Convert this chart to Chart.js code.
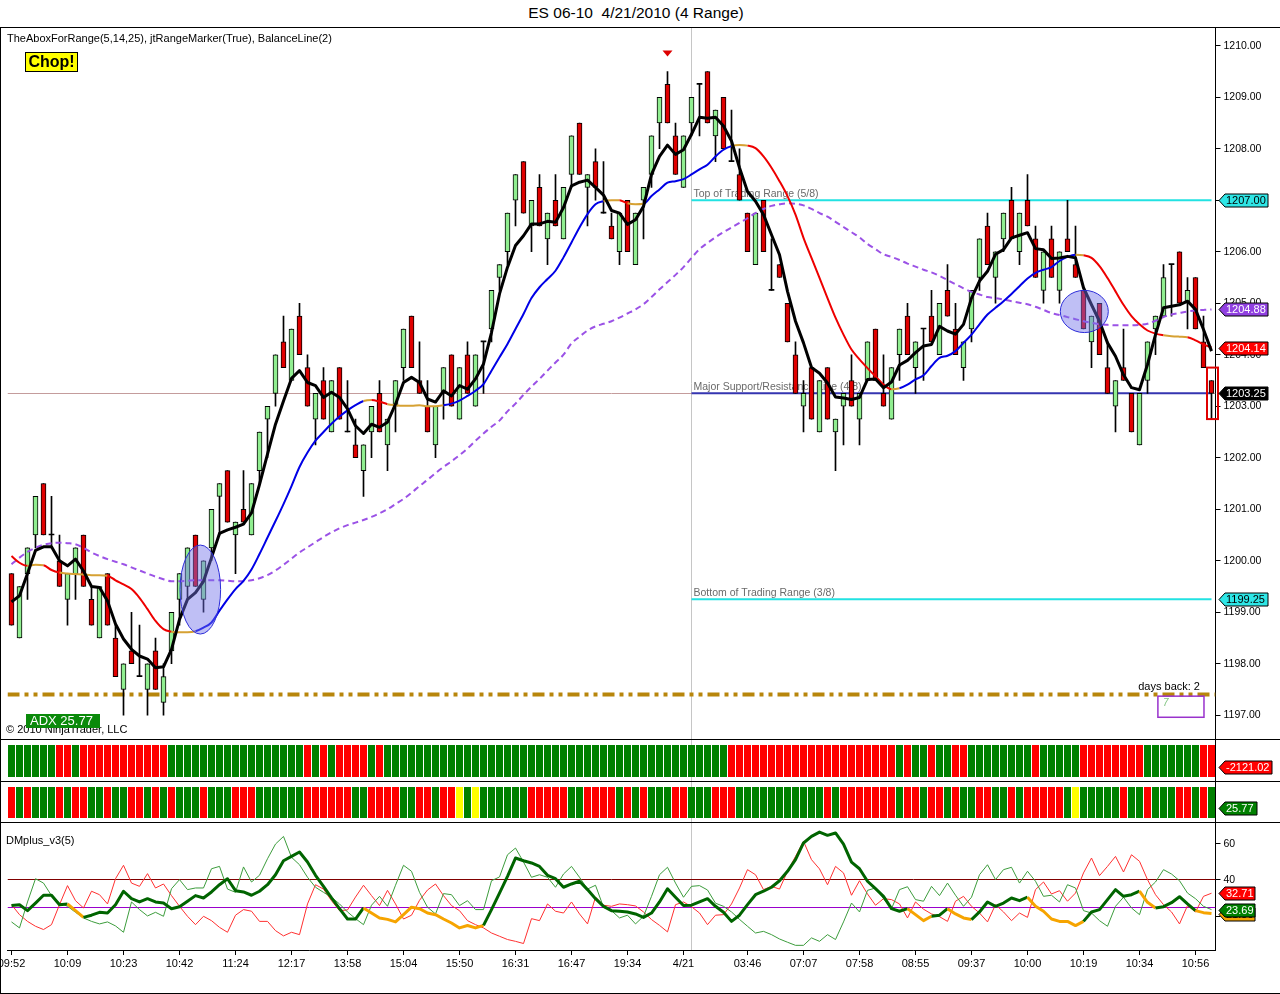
<!DOCTYPE html>
<html>
<head>
<meta charset="utf-8">
<title>ES 06-10 4/21/2010 (4 Range)</title>
<script src="https://cdn.jsdelivr.net/npm/chart.js@4.4.1/dist/chart.umd.min.js"></script>
<style>
html,body{margin:0;padding:0;background:#fff;}
body{width:1280px;height:994px;position:relative;overflow:hidden;font-family:'Liberation Sans',Arial,sans-serif;}
#title{position:absolute;left:0;top:4px;width:1272px;text-align:center;font-size:15.5px;line-height:18px;color:#000;}
.pane{position:absolute;left:0;width:1280px;}
.pane canvas{display:block;}
.h{position:absolute;left:0;width:1280px;height:1px;background:#000;}
.v{position:absolute;width:1px;background:#000;}
</style>
</head>
<body>
<div id="title">ES 06-10&nbsp; 4/21/2010 (4 Range)</div>
<div class="pane" style="top:28px;height:711px"><canvas id="cMain" width="1280" height="711"></canvas></div>
<div class="pane" style="top:740px;height:41px"><canvas id="cFlow" width="1280" height="41"></canvas></div>
<div class="pane" style="top:782px;height:40px"><canvas id="cStr" width="1280" height="40"></canvas></div>
<div class="pane" style="top:823px;height:170px"><canvas id="cDM" width="1280" height="170"></canvas></div>
<div class="h" style="top:27px"></div>
<div class="h" style="top:739px"></div>
<div class="h" style="top:781px"></div>
<div class="h" style="top:822px"></div>
<div class="h" style="top:993px"></div>
<div class="v" style="left:0;top:27px;height:967px"></div>
<div class="v" style="left:1215px;top:739px;height:84px"></div>
<script>
const FONT = "'Liberation Sans', Arial, Helvetica, sans-serif";

// ---------- price bars (4-tick range bars) ----------
const opens = [
1199.75,1198.5,1199.75,1200.5,1201.5,1200.5,1200.0,1199.25,1199.75,1200.5,
1199.25,1198.5,1199.75,1198.5,1197.5,1198.25,1197.75,1197.5,1198.25,1197.25,
1198.25,1199.25,1199.5,1200.5,1199.25,1200.25,1201.25,1201.75,1200.5,1201.0,
1200.5,1201.75,1202.75,1203.25,1204.25,1203.5,1204.75,1203.75,1202.75,1203.5,
1202.5,1203.75,1202.5,1202.25,1201.75,1202.5,1203.25,1202.25,1203.0,1203.75,
1204.75,1203.5,1203.0,1202.25,1203.25,1204.0,1202.75,1204.0,1203.0,1204.25,
1204.5,1205.5,1206.0,1207.0,1207.75,1206.5,1207.25,1206.25,1207.0,1206.25,
1207.5,1208.5,1207.25,1207.75,1206.75,1206.5,1206.0,1207.0,1205.75,1207.0,
1207.5,1208.5,1209.25,1208.25,1207.25,1208.5,1209.25,1209.5,1208.25,1209.0,
1207.75,1207.5,1206.75,1205.75,1207.0,1205.25,1205.75,1205.0,1204.0,1203.0,
1203.75,1202.5,1203.75,1202.5,1203.0,1203.5,1202.75,1203.5,1204.5,1203.25,
1202.75,1204.0,1204.75,1203.75,1204.5,1204.75,1204.0,1205.25,1204.5,1203.75,
1204.5,1205.5,1206.5,1205.5,1206.25,1207.0,1206.0,1207.0,1206.25,1205.25,
1206.25,1205.25,1206.25,1205.75,1205.25,1204.25,1205.0,1203.75,1203.0,1203.75,
1203.25,1202.25,1203.5,1204.5,1204.75,1205.75,1206.0,1205.0,1205.5,1204.25,
1203.5];
const highs = [
1199.75,1199.5,1200.25,1201.25,1201.5,1201.25,1200.5,1199.75,1200.25,1200.5,
1199.5,1199.5,1199.75,1198.75,1198.0,1199.0,1198.75,1198.0,1198.5,1198.0,
1199.0,1199.75,1200.25,1200.5,1200.0,1201.0,1201.5,1201.75,1200.75,1201.75,
1201.5,1202.5,1203.0,1204.0,1204.75,1204.5,1205.0,1204.0,1203.25,1203.75,
1203.5,1203.75,1203.5,1202.75,1202.25,1203.0,1203.5,1202.75,1203.5,1204.5,
1204.75,1204.25,1203.5,1203.0,1203.75,1204.0,1203.75,1204.25,1204.0,1204.25,
1205.25,1205.75,1206.75,1207.5,1207.75,1207.0,1207.5,1206.75,1207.5,1207.25,
1208.25,1208.5,1207.5,1208.0,1207.75,1206.75,1206.75,1207.0,1206.75,1207.25,
1208.25,1209.0,1209.5,1208.5,1208.25,1209.0,1209.25,1209.5,1208.75,1209.0,
1208.75,1208.0,1206.75,1206.75,1207.0,1206.25,1205.75,1205.0,1204.25,1203.5,
1203.75,1203.5,1203.75,1202.75,1203.25,1204.0,1203.25,1204.25,1204.5,1204.0,
1203.75,1204.5,1205.0,1204.25,1204.5,1205.25,1205.0,1205.75,1205.0,1204.25,
1205.25,1206.25,1206.75,1206.0,1206.75,1207.25,1206.75,1207.5,1206.5,1206.0,
1206.5,1206.0,1207.0,1206.5,1205.25,1204.75,1205.0,1204.25,1203.5,1204.5,
1203.25,1203.25,1204.25,1204.75,1205.75,1205.75,1206.0,1205.5,1205.5,1204.75,
1203.5];
const lows = [
1198.75,1198.5,1199.25,1200.25,1200.5,1200.25,1199.5,1198.75,1199.25,1199.5,
1198.75,1198.5,1198.75,1197.75,1197.0,1198.0,1197.75,1197.0,1197.5,1197.0,
1198.0,1198.75,1199.25,1199.5,1199.0,1200.0,1200.5,1200.75,1199.75,1200.75,
1200.5,1201.5,1202.0,1203.0,1203.75,1203.5,1204.0,1203.0,1202.25,1202.75,
1202.5,1202.75,1202.5,1202.0,1201.25,1202.0,1202.5,1201.75,1202.5,1203.5,
1203.75,1203.25,1202.5,1202.0,1202.75,1203.0,1202.75,1203.25,1203.0,1203.25,
1204.25,1205.25,1205.75,1206.5,1206.75,1206.0,1206.5,1205.75,1206.5,1206.25,
1207.25,1207.5,1206.5,1207.0,1206.75,1206.25,1205.75,1206.0,1205.75,1206.25,
1207.25,1208.0,1208.5,1207.5,1207.25,1208.25,1208.25,1208.5,1207.75,1208.0,
1207.75,1207.0,1206.0,1205.75,1206.0,1205.25,1205.5,1204.25,1203.25,1202.5,
1202.75,1202.5,1202.75,1201.75,1202.25,1203.0,1202.25,1203.5,1203.5,1203.0,
1202.75,1203.5,1204.0,1203.25,1203.5,1204.25,1204.0,1204.75,1204.0,1203.5,
1204.25,1205.25,1205.75,1205.0,1206.0,1206.25,1205.75,1206.5,1205.5,1205.0,
1205.5,1205.0,1206.0,1205.5,1204.5,1203.75,1204.0,1203.25,1202.5,1203.5,
1202.5,1202.25,1203.25,1204.0,1204.75,1204.75,1205.0,1204.5,1204.5,1203.75,
1202.75];
const closes = [
1198.75,1199.5,1200.25,1201.25,1200.5,1200.5,1199.5,1199.75,1200.25,1199.5,
1198.75,1199.5,1198.75,1197.75,1198.0,1198.0,1197.75,1198.0,1197.5,1197.75,
1199.0,1199.75,1200.25,1199.5,1200.0,1201.0,1201.5,1200.75,1200.75,1200.75,
1201.5,1202.5,1203.0,1204.0,1203.75,1204.5,1204.0,1203.0,1203.25,1202.75,
1203.5,1202.75,1202.5,1202.0,1202.25,1203.0,1202.5,1202.75,1203.5,1204.5,
1203.75,1203.25,1202.5,1203.0,1203.75,1203.0,1203.75,1203.25,1204.0,1204.25,
1205.25,1205.75,1206.75,1207.5,1206.75,1207.0,1206.5,1206.75,1206.5,1207.25,
1208.25,1207.5,1207.5,1207.25,1206.75,1206.25,1206.75,1206.0,1206.75,1207.25,
1208.25,1209.0,1208.5,1207.5,1208.25,1209.0,1209.25,1208.5,1208.75,1208.0,
1207.75,1207.0,1206.0,1206.75,1206.0,1205.25,1205.5,1204.25,1203.25,1203.25,
1202.75,1203.5,1202.75,1202.75,1203.25,1203.0,1203.25,1204.25,1203.5,1203.0,
1203.75,1204.5,1204.0,1204.25,1204.5,1204.25,1205.0,1204.75,1204.0,1204.25,
1205.25,1206.25,1205.75,1206.0,1206.75,1206.25,1206.75,1206.5,1205.5,1206.0,
1205.5,1206.0,1206.0,1205.5,1204.5,1204.75,1204.0,1203.25,1203.5,1203.5,
1202.5,1203.25,1204.25,1204.75,1205.5,1205.75,1205.0,1205.25,1204.5,1203.75,
1203.25];

// ---------- moving averages ----------
const fastAvg = [
1199.2,1199.32,1199.75,1200.2,1200.27,1200.27,1200.0,1199.9,1200.03,1199.8,
1199.5,1199.48,1199.22,1198.77,1198.48,1198.28,1198.15,1198.09,1197.92,1197.94,
1198.28,1198.86,1199.25,1199.38,1199.6,1200.06,1200.53,1200.6,1200.65,1200.71,
1200.93,1201.48,1202.07,1202.65,1203.1,1203.54,1203.69,1203.46,1203.4,1203.17,
1203.27,1203.17,1202.95,1202.62,1202.47,1202.65,1202.59,1202.69,1203.04,1203.46,
1203.56,1203.46,1203.14,1203.08,1203.3,1203.2,1203.4,1203.33,1203.53,1203.82,
1204.43,1205.18,1205.7,1206.12,1206.31,1206.54,1206.54,1206.59,1206.57,1206.86,
1207.28,1207.35,1207.39,1207.25,1207.1,1206.8,1206.75,1206.53,1206.62,1206.88,
1207.5,1207.85,1208.07,1207.89,1207.98,1208.28,1208.61,1208.59,1208.61,1208.44,
1208.15,1207.63,1207.17,1206.98,1206.72,1206.33,1205.94,1205.23,1204.65,1204.23,
1203.75,1203.64,1203.45,1203.18,1203.16,1203.13,1203.17,1203.52,1203.53,1203.36,
1203.47,1203.8,1203.89,1204.04,1204.17,1204.2,1204.55,1204.46,1204.4,1204.59,
1205.1,1205.43,1205.62,1205.95,1206.04,1206.27,1206.32,1206.37,1206.06,1206.04,
1205.87,1205.88,1205.91,1205.88,1205.3,1204.97,1204.65,1204.23,1203.97,1203.61,
1203.36,1203.32,1203.81,1204.39,1204.91,1204.94,1204.97,1205.04,1204.88,1204.49,
1204.07];
const trendAvg = [
1200.09,1199.96,1199.9,1199.92,1199.91,1199.82,1199.77,1199.75,1199.74,1199.73,
1199.72,1199.72,1199.71,1199.62,1199.54,1199.45,1199.28,1199.06,1198.83,1198.67,
1198.62,1198.61,1198.61,1198.63,1198.7,1198.8,1199.03,1199.25,1199.45,1199.61,
1199.83,1200.13,1200.45,1200.77,1201.1,1201.45,1201.82,1202.1,1202.33,1202.5,
1202.66,1202.8,1202.92,1203.02,1203.1,1203.12,1203.09,1203.04,1203.02,1203.01,
1203.01,1203.02,1203.0,1203.0,1203.02,1203.05,1203.11,1203.2,1203.3,1203.43,
1203.69,1203.95,1204.21,1204.5,1204.79,1205.1,1205.31,1205.47,1205.63,1205.89,
1206.18,1206.47,1206.73,1206.92,1206.98,1207.0,1207.0,1206.94,1206.92,1206.93,
1207.08,1207.21,1207.34,1207.37,1207.41,1207.5,1207.6,1207.69,1207.85,1207.98,
1208.05,1208.07,1208.06,1208.01,1207.85,1207.63,1207.37,1207.08,1206.72,1206.27,
1205.88,1205.49,1205.1,1204.72,1204.39,1204.1,1203.91,1203.74,1203.58,1203.42,
1203.33,1203.35,1203.42,1203.52,1203.6,1203.78,1203.94,1203.98,1204.07,1204.23,
1204.39,1204.59,1204.78,1204.91,1205.04,1205.18,1205.33,1205.48,1205.59,1205.65,
1205.7,1205.82,1205.9,1205.94,1205.93,1205.88,1205.72,1205.49,1205.23,1204.97,
1204.75,1204.59,1204.47,1204.41,1204.38,1204.36,1204.35,1204.34,1204.28,1204.2,
1204.14];
const slowAvg = [
1199.93,1200.06,1200.17,1200.25,1200.31,1200.34,1200.35,1200.34,1200.32,1200.25,
1200.16,1200.09,1200.03,1199.98,1199.93,1199.87,1199.81,1199.75,1199.69,1199.64,
1199.6,1199.6,1199.61,1199.62,1199.62,1199.62,1199.62,1199.61,1199.6,1199.6,
1199.62,1199.66,1199.72,1199.81,1199.92,1200.04,1200.16,1200.26,1200.36,1200.46,
1200.55,1200.63,1200.69,1200.74,1200.79,1200.85,1200.92,1201.0,1201.1,1201.2,
1201.32,1201.45,1201.57,1201.7,1201.82,1201.93,1202.05,1202.18,1202.33,1202.47,
1202.6,1202.72,1202.9,1203.05,1203.22,1203.38,1203.53,1203.69,1203.85,1204.0,
1204.22,1204.35,1204.47,1204.55,1204.6,1204.65,1204.72,1204.8,1204.88,1204.98,
1205.12,1205.27,1205.41,1205.55,1205.7,1205.88,1206.05,1206.17,1206.28,1206.38,
1206.47,1206.56,1206.65,1206.75,1206.83,1206.89,1206.92,1206.94,1206.93,1206.9,
1206.83,1206.75,1206.68,1206.58,1206.48,1206.38,1206.28,1206.15,1206.05,1205.95,
1205.9,1205.84,1205.77,1205.71,1205.65,1205.6,1205.53,1205.45,1205.37,1205.29,
1205.22,1205.17,1205.12,1205.1,1205.07,1205.04,1205.01,1204.98,1204.93,1204.87,
1204.81,1204.77,1204.73,1204.69,1204.65,1204.62,1204.59,1204.58,1204.57,1204.57,
1204.57,1204.58,1204.6,1204.66,1204.73,1204.78,1204.81,1204.84,1204.86,1204.87,
1204.88];

// ---------- colour-bar panels (1 = up/green, -1 = down/red, 0 = neutral/yellow) ----------
const flowSign = [
1,1,1,1,1,1,-1,-1,1,-1,
-1,-1,-1,-1,-1,-1,-1,-1,-1,-1,
1,1,1,1,1,1,1,1,1,1,
1,1,1,1,1,1,1,-1,1,-1,
1,-1,-1,-1,-1,1,-1,1,1,1,
1,1,1,1,1,1,1,1,1,1,
1,1,1,1,1,1,1,1,1,1,
1,1,1,1,1,1,1,1,1,1,
1,1,1,1,1,1,1,1,1,1,
-1,-1,-1,-1,-1,-1,-1,-1,-1,-1,
-1,-1,-1,-1,-1,-1,-1,-1,-1,-1,
-1,1,-1,1,1,-1,1,1,-1,-1,
1,1,1,1,1,1,1,1,-1,1,
1,1,1,1,-1,-1,-1,-1,-1,-1,
-1,-1,1,1,1,1,1,1,1,-1,
-1];
const strengthSign = [
-1,1,-1,1,1,1,-1,1,-1,-1,
1,1,-1,1,1,-1,-1,1,-1,1,
-1,1,1,1,-1,1,1,1,-1,-1,
-1,1,1,1,1,1,1,-1,-1,-1,
-1,-1,-1,1,1,-1,-1,-1,-1,1,
1,-1,-1,1,-1,-1,0,1,0,1,
1,1,1,1,1,-1,-1,-1,-1,-1,
1,1,-1,-1,-1,-1,1,-1,1,-1,
1,1,1,-1,-1,1,1,1,-1,-1,
-1,1,1,1,1,1,1,1,1,1,
1,1,-1,1,-1,-1,-1,-1,-1,-1,
-1,1,-1,-1,1,-1,-1,1,-1,1,
1,-1,-1,1,1,-1,1,-1,-1,-1,
-1,-1,1,0,1,1,1,1,1,-1,
1,1,-1,1,1,1,-1,-1,1,-1,
1];
const flowValue = -2121.02;
const adxValue = 25.77;

// ---------- DMplus_v3(5) panel ----------
const adx = [
25.9,26.4,23.1,27.3,31.6,31.6,26.4,26.8,23.1,19.4,
20.6,22.2,21.8,26.4,33.8,29.7,27.9,29.7,27.9,27.3,
24.2,25.3,28.3,31.4,30.1,33.4,37.4,40.7,34.1,33.4,
31.6,33.8,37.4,42.9,50.6,53.0,55.4,49.9,42.6,36.5,
30.1,24.2,18.5,18.5,24.6,21.8,19.1,18.3,16.9,20.9,
25.0,24.2,21.8,20.9,18.5,16.3,13.6,14.9,13.6,15.0,
23.7,32.8,42.0,52.1,50.6,49.4,47.5,42.6,40.7,36.0,
37.8,39.3,34.7,29.7,25.5,23.1,22.8,22.4,21.3,19.4,
21.8,27.9,35.2,30.5,25.9,26.1,27.9,29.7,25.5,22.2,
17.2,20.6,26.4,31.9,33.8,36.0,39.6,44.8,51.2,60.4,
64.0,66.4,64.6,65.9,59.8,49.9,46.2,39.3,35.2,31.0,
24.2,22.8,24.2,20.9,17.6,20.0,20.6,24.2,21.3,19.1,
18.2,22.4,27.9,25.5,27.3,30.1,28.6,30.5,25.5,22.8,
18.5,17.2,17.2,14.9,17.2,22.4,23.7,29.2,34.7,31.0,
31.9,33.8,27.7,24.6,25.3,27.5,30.8,26.8,23.1,22.0,
21.5];
const diPlus = [
16.9,13.6,27.9,40.7,38.3,31.4,27.3,25.5,22.2,19.1,
17.2,15.8,16.9,14.7,11.2,27.9,23.7,20.2,22.2,20.0,
35.2,40.2,34.7,35.6,35.6,46.2,47.5,35.0,33.2,47.2,
38.9,42.6,51.7,59.8,64.0,52.5,48.4,41.5,36.0,33.2,
30.5,26.8,22.4,18.7,15.4,26.1,31.0,25.5,37.1,48.1,
44.8,33.2,25.0,21.3,32.5,31.9,25.9,28.6,23.7,23.7,
39.6,41.7,53.9,57.6,49.9,41.5,42.9,41.5,36.0,43.3,
47.5,41.5,35.0,37.1,25.0,23.1,19.1,20.6,15.8,20.0,
31.0,42.9,47.0,38.3,30.5,36.5,36.9,34.5,27.2,25.5,
22.4,18.3,14.5,10.8,11.7,9.9,7.5,5.7,4.0,4.0,
8.1,6.2,9.9,7.2,16.9,27.3,22.4,34.3,35.6,29.7,
24.2,34.7,36.3,29.2,28.3,36.5,31.4,38.3,31.6,25.5,
30.5,42.9,48.4,40.2,45.7,47.0,38.3,44.8,39.3,31.0,
31.6,27.9,37.4,35.6,23.1,21.8,17.6,14.5,25.5,30.5,
24.6,20.9,34.7,38.9,45.7,43.3,39.6,32.8,29.7,25.5,
23.69];
const diMinus = [
26.4,20.9,17.2,14.5,12.7,15.4,26.4,36.9,28.6,24.6,
33.8,31.9,26.8,40.7,48.1,38.3,36.5,43.5,35.6,37.8,
31.4,25.5,20.0,15.4,20.0,17.6,13.9,11.2,20.6,23.7,
22.8,17.2,17.2,12.1,9.2,11.2,9.9,26.8,37.4,35.0,
28.6,23.1,23.5,30.6,37.1,31.4,25.9,34.3,26.8,18.5,
20.6,28.8,34.5,37.8,31.4,25.9,23.1,17.6,15.4,13.6,
10.8,9.0,7.2,6.2,5.0,18.7,17.6,26.8,22.8,21.8,
27.9,21.3,15.8,30.6,26.1,25.5,26.8,26.4,25.7,22.4,
18.2,15.0,11.4,26.4,27.9,25.3,21.8,15.4,20.6,20.9,
26.8,35.6,45.7,42.9,34.7,36.5,35.0,44.8,53.0,61.3,
51.2,46.1,37.4,47.5,43.9,31.6,39.6,32.3,26.1,29.7,
29.2,26.8,19.1,27.9,23.9,21.3,19.8,17.2,28.3,31.0,
25.5,21.8,16.9,26.4,22.4,17.6,21.8,19.4,34.7,38.9,
32.3,34.1,28.3,32.8,43.9,52.1,42.4,47.5,53.0,44.4,
53.9,50.3,40.2,31.9,26.4,22.4,15.8,25.9,22.4,31.0,
32.71];
const adxWeakRanges = [[8,9],[45,59],[113,115],[118,120],[128,134],[142,143],[149,150]];
const diLevel = 40, adxLevel = 25;

// ---------- time-axis labels ----------
const tickBars = [0,7,14,21,28,35,42,49,56,63,70,77,84,92,99,106,113,120,127,134,141,148];
const tickText = ['09:52','10:09','10:23','10:42','11:24','12:17','13:58','15:04','15:50','16:31','16:47','19:34','4/21','03:46','07:07','07:58','08:55','09:37','10:00','10:19','10:34','10:56'];

// ---------- drawn levels / markers ----------
const rangeTop = 1207.00, majorLevel = 1203.25, rangeBottom = 1199.25;
const daysBackLevel = 1197.4;
const sessionBar = 85;
const signalBar = 82, signalPrice = 1209.85;
const projHigh = 1203.75, projLow = 1202.75;
const ellipses = [
  {bar: 23.6, price: 1199.44, halfBars: 2.54, halfPts: 0.864},
  {bar: 134.1, price: 1204.84, halfBars: 3.0, halfPts: 0.41}
];
const priceMin = 1196.538, priceMax = 1210.344;
const dmMin = 1.43, dmMax = 71.4;

const N = closes.length;
const bars = Array.from({length: N}, (_, i) => i);
const PAD_L = 7.5, AXIS_W = 64.5;

Chart.defaults.font.family = FONT;

function seg(ctx, x0, y0, x1, y1, color, w) {
  ctx.beginPath(); ctx.moveTo(x0, y0); ctx.lineTo(x1, y1);
  ctx.strokeStyle = color; ctx.lineWidth = w; ctx.stroke();
}
function crisp(v) { return Math.round(v - 0.5) + 0.5; }
function flag(ctx, x, y, text, fill, fg, w) {
  const h = 13, t = 6;
  y = Math.round(y) + 0.5;
  ctx.save();
  ctx.beginPath();
  ctx.moveTo(x, y); ctx.lineTo(x + t, y - h / 2); ctx.lineTo(x + w, y - h / 2);
  ctx.lineTo(x + w, y + h / 2); ctx.lineTo(x + t, y + h / 2); ctx.closePath();
  ctx.fillStyle = fill; ctx.fill();
  ctx.lineWidth = 1; ctx.strokeStyle = '#000'; ctx.stroke();
  ctx.fillStyle = fg; ctx.font = '11px ' + FONT;
  ctx.textAlign = 'left'; ctx.textBaseline = 'middle';
  ctx.fillText(text, x + t + 1, y + 0.5);
  ctx.restore();
}
function clipArea(ctx, a) { ctx.beginPath(); ctx.rect(a.left, a.top, a.right - a.left, a.bottom - a.top); ctx.clip(); }

function trendColor(c) {
  const d = c.p1.parsed.y - c.p0.parsed.y;
  return d > 0.025 ? '#0000e6' : (d < -0.025 ? '#ee0000' : '#d6a133');
}
function isWeak(i) { return adxWeakRanges.some(r => i >= r[0] && i <= r[1]); }

const baseOptions = (scales, pad) => ({
  responsive: false, animation: false, events: [],
  layout: {padding: Object.assign({left: PAD_L, right: 0, top: 0, bottom: 0}, pad || {})},
  plugins: {legend: {display: false}, tooltip: {enabled: false}, title: {display: false}},
  scales
});

// ---------- main price panel ----------
const mainOverlay = {
  id: 'mainOverlay',
  beforeDatasetsDraw(chart) {
    const {ctx, chartArea: a, scales: {x, y}} = chart;
    ctx.save(); clipArea(ctx, a);
    const sx = x.getPixelForValue(sessionBar);
    seg(ctx, sx, a.top, sx, a.bottom, '#c6c6c6', 1);
    const ym = crisp(y.getPixelForValue(majorLevel));
    seg(ctx, a.left, ym, a.right, ym, '#c49c9c', 1);
    const yg = y.getPixelForValue(daysBackLevel);
    ctx.setLineDash([12, 5, 4, 5, 4, 5]);
    seg(ctx, a.left, yg, a.right, yg, '#b8860b', 4);
    ctx.setLineDash([]);
    const xe = x.getPixelForValue(N - 1);
    const levels = [
      [rangeTop, '#22e2e2', 'Top of Trading Range (5/8)'],
      [majorLevel, '#3535b0', 'Major Support/Resistance Line (4/8)'],
      [rangeBottom, '#22e2e2', 'Bottom of Trading Range (3/8)']
    ];
    ctx.font = '10.5px ' + FONT; ctx.textAlign = 'left'; ctx.textBaseline = 'alphabetic';
    for (const [v, col, label] of levels) {
      const yy = y.getPixelForValue(v);
      seg(ctx, sx, yy, xe, yy, col, 2);
      ctx.fillStyle = '#6a6a6a';
      ctx.fillText(label, sx + 2, yy - 3);
    }
    ctx.restore();
  },
  afterDatasetsDraw(chart) {
    const {ctx, chartArea: a, scales: {x, y}} = chart;
    ctx.save();
    for (const e of ellipses) {
      const cx = x.getPixelForValue(e.bar), cy = y.getPixelForValue(e.price);
      const rx = Math.abs(x.getPixelForValue(e.bar + e.halfBars) - cx);
      const ry = Math.abs(y.getPixelForValue(e.price + e.halfPts) - cy);
      ctx.beginPath(); ctx.ellipse(cx, cy, rx, ry, 0, 0, Math.PI * 2);
      ctx.fillStyle = 'rgba(112,112,232,0.45)'; ctx.fill();
      ctx.strokeStyle = '#2c2cd8'; ctx.lineWidth = 1; ctx.stroke();
    }
    // signal marker
    const tx = x.getPixelForValue(signalBar), ty = y.getPixelForValue(signalPrice);
    ctx.beginPath(); ctx.moveTo(tx - 5, ty - 3); ctx.lineTo(tx + 5, ty - 3); ctx.lineTo(tx, ty + 3); ctx.closePath();
    ctx.fillStyle = '#dd0000'; ctx.fill();
    // projected range box on the last bar
    const bx = x.getPixelForValue(N - 1);
    const by0 = y.getPixelForValue(projHigh), by1 = y.getPixelForValue(projLow);
    ctx.strokeStyle = '#e00000'; ctx.lineWidth = 2;
    ctx.strokeRect(Math.round(bx) - 5, by0, 11, by1 - by0);
    // days back
    ctx.font = '11px ' + FONT; ctx.fillStyle = '#000'; ctx.textAlign = 'right'; ctx.textBaseline = 'alphabetic';
    ctx.fillText('days back: 2', x.getPixelForValue(148.56), y.getPixelForValue(1197.49));
    const px0 = x.getPixelForValue(143.3), px1 = x.getPixelForValue(149.06);
    const py0 = y.getPixelForValue(1197.37), py1 = y.getPixelForValue(1196.96);
    ctx.strokeStyle = '#9932cc'; ctx.lineWidth = 1.5;
    ctx.strokeRect(px0, py0, px1 - px0, py1 - py0);
    ctx.font = 'italic 10px ' + FONT; ctx.fillStyle = '#7cc27c'; ctx.textAlign = 'left';
    ctx.fillText('7', px0 + 5, py0 + 10);
    // Chop! box
    ctx.fillStyle = '#ffff00'; ctx.fillRect(25.5, 24.5, 52, 19);
    ctx.strokeStyle = '#000'; ctx.lineWidth = 1; ctx.strokeRect(25.5, 24.5, 52, 19);
    ctx.fillStyle = '#000'; ctx.font = 'bold 16px ' + FONT; ctx.textAlign = 'center'; ctx.textBaseline = 'middle';
    ctx.fillText('Chop!', 51.5, 34.5);
    // indicator header
    ctx.font = '11px ' + FONT; ctx.textAlign = 'left'; ctx.textBaseline = 'middle';
    ctx.fillText('TheAboxForRange(5,14,25), jtRangeMarker(True), BalanceLine(2)', 7, 11);
    // copyright + ADX box
    ctx.fillText('\u00A9 2010 NinjaTrader, LLC', 6, 702);
    ctx.fillStyle = '#0a8a0a'; ctx.fillRect(26, 686, 74, 14);
    ctx.fillStyle = '#fff'; ctx.font = '13px ' + FONT; ctx.textBaseline = 'middle';
    ctx.fillText('ADX ' + adxValue.toFixed(2), 30, 693.5);
    ctx.restore();
  },
  afterDraw(chart) {
    const {ctx, chartArea: a, scales: {y}} = chart;
    const fx = a.right + 3.5;
    flag(ctx, fx, y.getPixelForValue(rangeTop), rangeTop.toFixed(2), '#2ee6e6', '#000', 49);
    flag(ctx, fx, y.getPixelForValue(rangeBottom), rangeBottom.toFixed(2), '#2ee6e6', '#000', 49);
    flag(ctx, fx, y.getPixelForValue(slowAvg[N - 1]), slowAvg[N - 1].toFixed(2), '#9040e0', '#fff', 49);
    flag(ctx, fx, y.getPixelForValue(trendAvg[N - 1]), trendAvg[N - 1].toFixed(2), '#ff0000', '#fff', 49);
    flag(ctx, fx, y.getPixelForValue(closes[N - 1]), closes[N - 1].toFixed(2), '#000000', '#fff', 49);
  }
};

const bodyColor = opens.map((o, i) => closes[i] > o ? '#90ee90' : (closes[i] < o ? '#e00000' : '#000000'));
const bodyBorder = opens.map((o, i) => closes[i] === o ? 0 : 1);

new Chart(document.getElementById('cMain'), {
  type: 'bar',
  data: {
    labels: bars,
    datasets: [
      {type: 'line', data: fastAvg, borderColor: '#000', borderWidth: 3, pointRadius: 0, tension: 0, borderJoinStyle: 'round', order: 0},
      {type: 'line', data: trendAvg, borderColor: '#0000e6', borderWidth: 2, pointRadius: 0, cubicInterpolationMode: 'monotone', segment: {borderColor: trendColor}, order: 1},
      {type: 'line', data: slowAvg, borderColor: '#9b52e6', borderWidth: 2, borderDash: [6, 4], pointRadius: 0, cubicInterpolationMode: 'monotone', order: 2},
      {type: 'bar', data: opens.map((o, i) => [o, closes[i]]), backgroundColor: bodyColor, borderColor: '#000', borderWidth: bodyBorder, borderSkipped: false, barThickness: 5, minBarLength: 1, grouped: false, order: 8},
      {type: 'bar', data: lows.map((l, i) => [l, highs[i]]), backgroundColor: '#000', borderWidth: 0, barThickness: 1, grouped: false, order: 9}
    ]
  },
  options: baseOptions({
    x: {type: 'category', display: false, offset: true, grid: {offset: false}},
    y: {
      position: 'right', min: priceMin, max: priceMax,
      afterFit(s) { s.width = AXIS_W; s.paddingTop = 0; s.paddingBottom = 0; },
      border: {display: true, color: '#000'},
      grid: {drawOnChartArea: false, drawTicks: true, tickLength: 5, color: '#000'},
      ticks: {stepSize: 1, includeBounds: false, maxTicksLimit: 30, color: '#000', font: {family: FONT, size: 10.5}, padding: 3, callback: v => Number(v).toFixed(2)}
    }
  }),
  plugins: [mainOverlay]
});

// ---------- colour-bar panels ----------
function panelChart(id, states, flagText, flagFill, flagW, padTop, padBottom) {
  const colors = states.map(s => s > 0 ? '#008000' : (s < 0 ? '#ff0000' : '#ffff00'));
  return new Chart(document.getElementById(id), {
    type: 'bar',
    data: {labels: bars, datasets: [{data: states.map(() => 1), backgroundColor: colors, borderWidth: 0, barPercentage: 0.875, categoryPercentage: 1}]},
    options: baseOptions({
      x: {type: 'category', display: false, offset: true, grid: {offset: false}},
      y: {position: 'right', min: 0, max: 1,
          afterFit(s) { s.width = AXIS_W; s.paddingTop = 0; s.paddingBottom = 0; },
          border: {display: true, color: '#000'}, grid: {display: false}, ticks: {display: false}}
    }, {top: padTop, bottom: padBottom}),
    plugins: [{
      id: 'panel_' + id,
      beforeDatasetsDraw(chart) {
        const {ctx, chartArea: a, scales: {x}} = chart;
        const sx = x.getPixelForValue(sessionBar);
        ctx.save(); seg(ctx, sx, 0, sx, chart.height, '#c6c6c6', 1); ctx.restore();
      },
      afterDraw(chart) {
        const {ctx, chartArea: a} = chart;
        flag(ctx, a.right + 3.5, a.bottom - 10, flagText, flagFill, '#fff', flagW);
      }
    }]
  });
}
panelChart('cFlow', flowSign, flowValue.toFixed(2), '#ff0000', 53, 5, 4);
panelChart('cStr', strengthSign, adxValue.toFixed(2), '#008000', 38, 5, 4);

// ---------- DMplus panel ----------
const dmOverlay = {
  id: 'dmOverlay',
  beforeDatasetsDraw(chart) {
    const {ctx, chartArea: a, scales: {x, y}} = chart;
    ctx.save(); clipArea(ctx, a);
    const sx = x.getPixelForValue(sessionBar);
    seg(ctx, sx, a.top, sx, a.bottom, '#c6c6c6', 1);
    const y40 = crisp(y.getPixelForValue(diLevel));
    seg(ctx, a.left, y40, a.right, y40, '#800000', 1);
    const y25 = crisp(y.getPixelForValue(adxLevel));
    seg(ctx, a.left, y25, a.right, y25, '#9a00cc', 1);
    ctx.restore();
  },
  afterDraw(chart) {
    const {ctx, chartArea: a, scales: {y}} = chart;
    ctx.save();
    ctx.font = '11px ' + FONT; ctx.fillStyle = '#000'; ctx.textAlign = 'left'; ctx.textBaseline = 'middle';
    ctx.fillText('DMplus_v3(5)', 6, 18);
    ctx.restore();
    const fx = a.right + 3.5;
    flag(ctx, fx, y.getPixelForValue(adx[N - 1]), adx[N - 1].toFixed(2), '#f6a400', '#000', 36);
    flag(ctx, fx, y.getPixelForValue(diPlus[N - 1]), diPlus[N - 1].toFixed(2), '#008000', '#fff', 36);
    flag(ctx, fx, y.getPixelForValue(diMinus[N - 1]), diMinus[N - 1].toFixed(2), '#ff0000', '#fff', 36);
  }
};

new Chart(document.getElementById('cDM'), {
  type: 'line',
  data: {
    labels: bars,
    datasets: [
      {data: adx, borderColor: '#006400', borderWidth: 3, pointRadius: 0, tension: 0, borderJoinStyle: 'round',
       segment: {borderColor: c => isWeak(c.p1DataIndex) ? '#f6a400' : '#006400'}, order: 0},
      {data: diPlus, borderColor: '#3c9c3c', borderWidth: 1, pointRadius: 0, tension: 0, order: 1},
      {data: diMinus, borderColor: '#ff3030', borderWidth: 1, pointRadius: 0, tension: 0, order: 2}
    ]
  },
  options: baseOptions({
    x: {
      type: 'category', offset: true, position: 'bottom',
      afterFit(s) { s.height = 43; s.paddingLeft = 0; s.paddingRight = 0; },
      border: {display: true, color: '#000'},
      grid: {offset: false, drawOnChartArea: false, drawTicks: true, tickLength: 5, color: '#000'},
      ticks: {autoSkip: false, maxRotation: 0, minRotation: 0, padding: 2, color: '#000', font: {family: FONT, size: 11},
              callback: (v, i) => { const k = tickBars.indexOf(i); return k < 0 ? null : tickText[k]; }}
    },
    y: {
      position: 'right', min: dmMin, max: dmMax,
      afterFit(s) { s.width = AXIS_W; s.paddingTop = 0; s.paddingBottom = 0; },
      border: {display: true, color: '#000'},
      grid: {drawOnChartArea: false, drawTicks: true, tickLength: 5, color: '#000'},
      ticks: {stepSize: 20, includeBounds: false, color: '#000', font: {family: FONT, size: 10.5}, padding: 3}
    }
  }),
  plugins: [dmOverlay]
});
</script>
</body>
</html>
